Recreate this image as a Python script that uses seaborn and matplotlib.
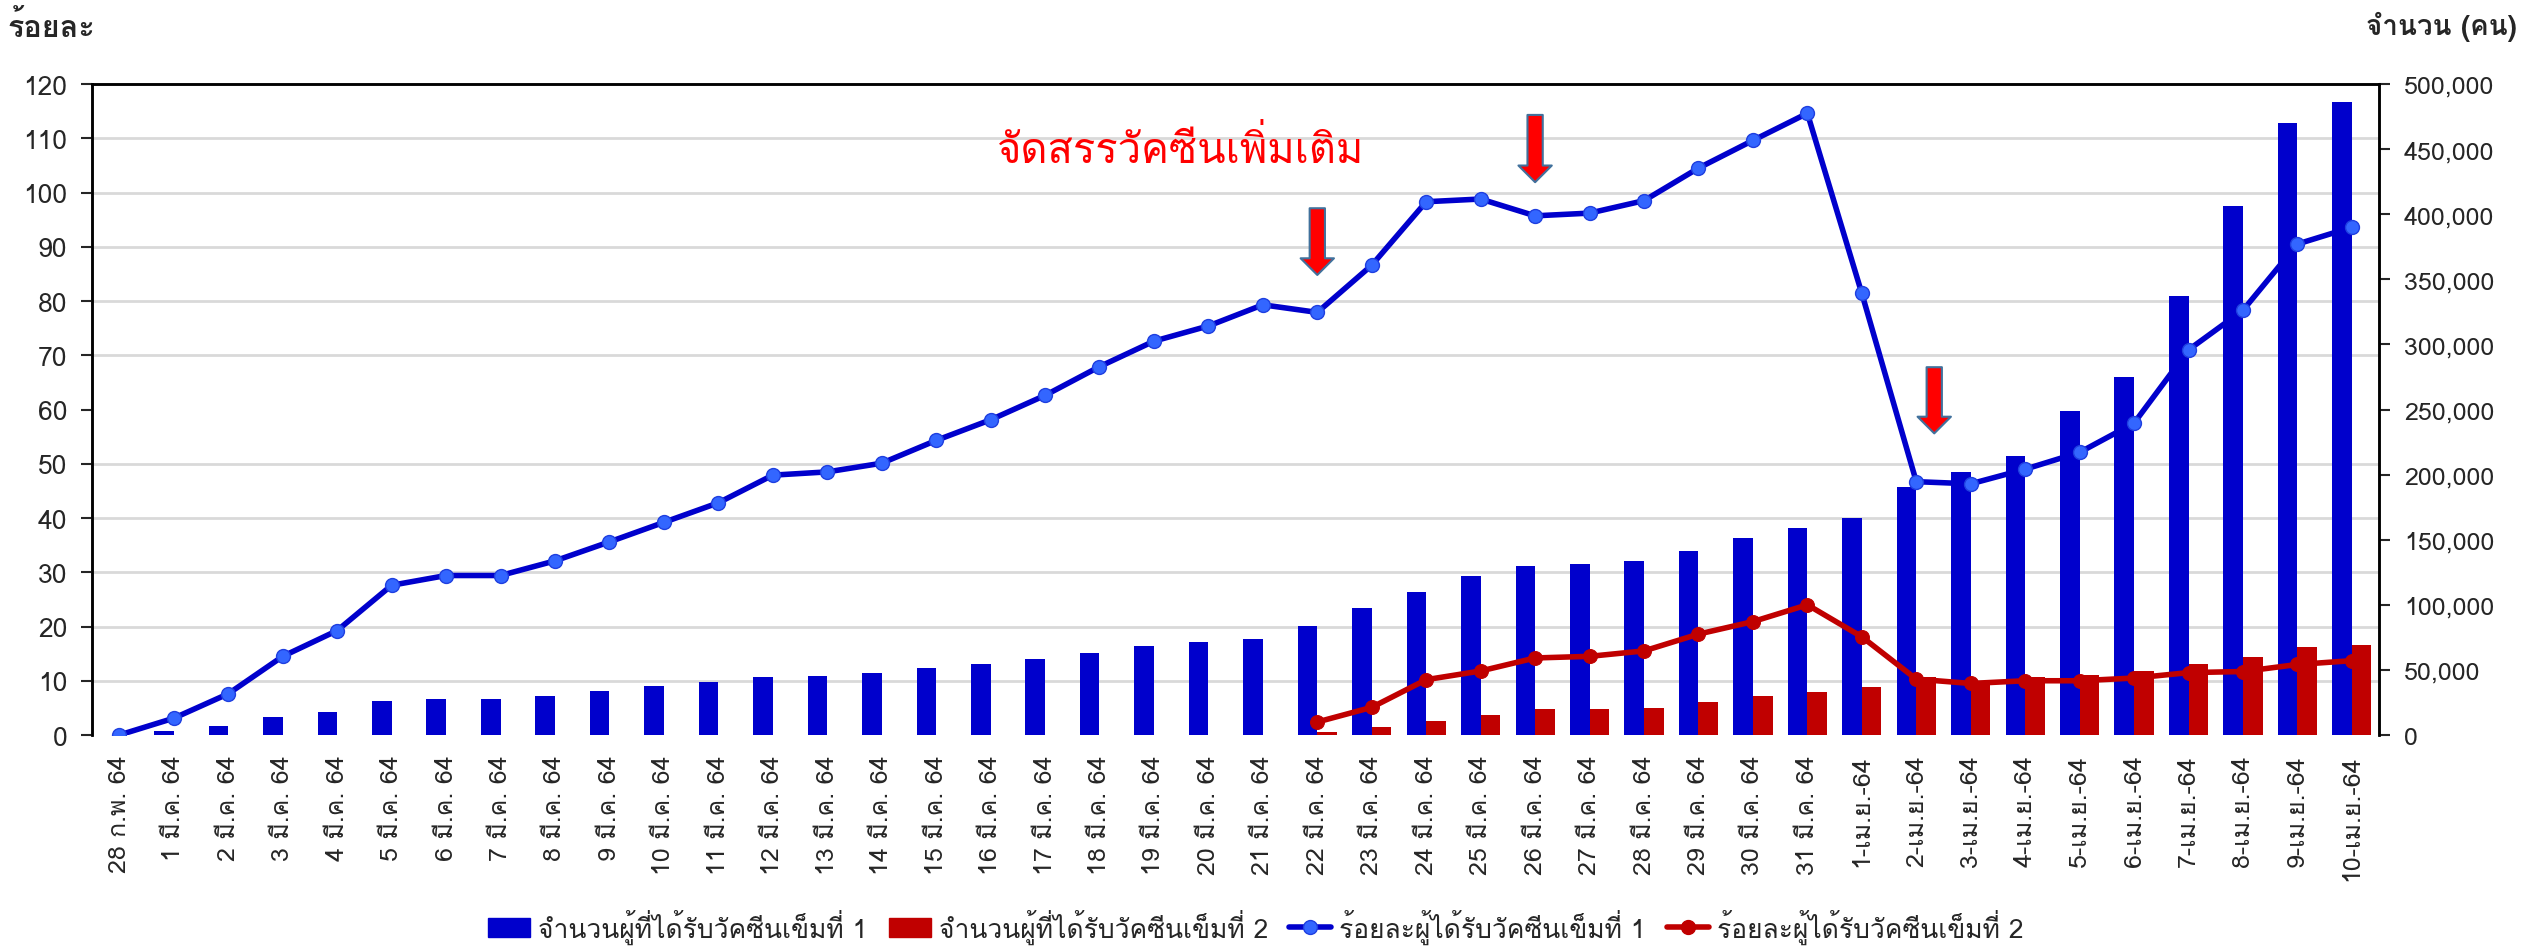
#!/usr/bin/env python3

import numpy as np
import pandas as pd
import matplotlib
matplotlib.use("Agg")
import matplotlib.pyplot as plt
from matplotlib import font_manager, ft2font
from matplotlib.patches import Patch
from matplotlib.lines import Line2D
from matplotlib.ticker import MultipleLocator, FuncFormatter
import seaborn as sns

sns.set_style("white")


def find_thai_font():
    # look for any installed font that has Thai glyphs
    for f in font_manager.fontManager.ttflist:
        try:
            cmap = ft2font.FT2Font(f.fname).get_charmap()
        except Exception:
            continue
        if 0x0E08 in cmap and 0x0E31 in cmap:
            return f.name
    return None


thai = find_thai_font()
fams = [thai, "DejaVu Sans"] if thai else ["DejaVu Sans"]
plt.rcParams["font.family"] = fams

dates = (["28 ก.พ. 64"]
         + [f"{d} มี.ค. 64" for d in range(1, 32)]
         + [f"{d}-เม.ย.-64" for d in range(1, 11)])

dose1_count = [0, 3100, 7000, 14100, 18000, 25800, 27900, 27900, 29700, 33600,
               37500, 40600, 44500, 45600, 47400, 51600, 54400, 58600, 63300, 68200,
               71100, 74000, 83500, 97500, 109500, 122300, 130000, 131200, 134000, 141500,
               151000, 159000, 166800, 190500, 201900, 214200, 248500, 275200, 337500, 406000,
               470000, 486500]
dose2_count = [0] * 22 + [2100, 6000, 11000, 15000, 19900, 19900, 20900, 25700, 29700, 33300,
                          37200, 44300, 41700, 44300, 46300, 49400, 54600, 60200, 67500, 69300]

dose1_pct = [0, 3.1, 7.6, 14.5, 19.25, 27.6, 29.4, 29.4, 32.1, 35.6,
             39.2, 42.8, 47.9, 48.5, 50.1, 54.3, 58.1, 62.6, 67.9, 72.6,
             75.4, 79.3, 77.9, 86.6, 98.3, 98.8, 95.7, 96.2, 98.5, 104.5,
             109.6, 114.6, 81.4, 46.7, 46.3, 49.0, 52.1, 57.5, 71.0, 78.3,
             90.5, 93.6]
dose2_pct = [np.nan] * 22 + [2.4, 5.1, 10.2, 11.8, 14.2, 14.5, 15.5, 18.6, 20.9, 24.0,
                             18.1, 10.3, 9.5, 10.0, 10.0, 10.5, 11.5, 11.7, 13.0, 13.7]

labels = ["จำนวนผู้ที่ได้รับวัคซีนเข็มที่ 1", "จำนวนผู้ที่ได้รับวัคซีนเข็มที่ 2",
          "ร้อยละผู้ได้รับวัคซีนเข็มที่ 1", "ร้อยละผู้ได้รับวัคซีนเข็มที่ 2"]
note = "จัดสรรวัคซีนเพิ่มเติม"
# where the allocation arrows sit (category index, top, tip on the % axis)
arrows = [(22, 97.1, 84.8), (26, 114.3, 101.9), (33.33, 67.8, 55.6)]

BLUE = "#0000CC"
RED = "#C00000"

bars = pd.DataFrame({
    "date": dates * 2,
    "count": dose1_count + dose2_count,
    "series": [labels[0]] * len(dates) + [labels[1]] * len(dates),
})
pct = pd.DataFrame({"x": np.arange(len(dates)), "p1": dose1_pct, "p2": dose2_pct})

fig, ax = plt.subplots(figsize=(25.24, 9.53), dpi=100)
fig.subplots_adjust(left=0.0365, right=0.9426, bottom=0.2277, top=0.9108)

sns.barplot(data=bars, x="date", y="count", hue="series", order=dates,
            palette=[BLUE, RED], saturation=1, width=0.72, gap=0, ax=ax,
            legend=False, edgecolor="none")
ax.set_ylim(0, 500000)
ax.set_xlim(-0.5, len(dates) - 0.5)
ax.set_xlabel("")
ax.set_ylabel("")

ax2 = ax.twinx()
# twinx moves the first axis' ticks to the left, so put them back on the right here
ax.yaxis.tick_right()
ax.yaxis.set_major_locator(MultipleLocator(50000))
ax.yaxis.set_major_formatter(FuncFormatter(lambda v, p: f"{v:,.0f}"))
ax.yaxis.set_minor_locator(MultipleLocator(500000 / 12))
ax.grid(which="minor", axis="y", color="#D9D9D9", lw=2)
ax.set_axisbelow(True)
ax.tick_params(axis="y", which="major", left=False, right=True, labelleft=False,
               labelright=True, length=8, width=1.5, labelsize=18, pad=10)
ax.tick_params(axis="y", which="minor", length=0)
ax.tick_params(axis="x", rotation=90, length=0, labelsize=18, pad=14)

sns.lineplot(data=pct, x="x", y="p1", ax=ax2, color=BLUE, lw=4, marker="o",
             markersize=10, markerfacecolor="#3366FF", markeredgecolor="#1F3FE0",
             markeredgewidth=1, errorbar=None, sort=False)
sns.lineplot(data=pct.dropna(), x="x", y="p2", ax=ax2, color=RED, lw=4, marker="o",
             markersize=10, markerfacecolor=RED, markeredgecolor=RED,
             errorbar=None, sort=False)
ax2.set_ylim(0, 120)
ax2.yaxis.tick_left()
ax2.yaxis.set_major_locator(MultipleLocator(10))
ax2.tick_params(axis="y", left=True, right=False, labelleft=True, labelright=False,
                length=8, width=1.5, labelsize=19, pad=10)
ax2.set_xlabel("")
ax2.set_ylabel("")

for a in (ax, ax2):
    for s in ("left", "right", "top"):
        a.spines[s].set_visible(True)
        a.spines[s].set_color("black")
        a.spines[s].set_linewidth(1.8)
    a.spines["bottom"].set_visible(False)

for x, y0, y1 in arrows:
    ax2.annotate("", xy=(x, y1), xytext=(x, y0),
                 arrowprops=dict(arrowstyle="simple,head_length=1.2,head_width=2.4,tail_width=1.1",
                                 fc="#FF0000", ec="#41719C", lw=1.5,
                                 shrinkA=0, shrinkB=0))

ax2.text(16.1, 108, note, color="#FF0000", fontsize=30, ha="left", va="center")

fig.text(0.003, 0.972, "ร้อยละ", fontsize=22, fontweight="bold", ha="left", va="center")
fig.text(0.997, 0.972, "จำนวน (คน)", fontsize=20, fontweight="bold", ha="right", va="center")

handles = [Patch(color=BLUE), Patch(color=RED),
           Line2D([], [], color=BLUE, lw=4, marker="o", markersize=10,
                  markerfacecolor="#3366FF", markeredgecolor="#1F3FE0"),
           Line2D([], [], color=RED, lw=4, marker="o", markersize=10,
                  markerfacecolor=RED, markeredgecolor=RED)]
fig.legend(handles, labels, loc="center", bbox_to_anchor=(0.4976, 0.027), ncol=4,
           frameon=False, fontsize=19, handlelength=1.6, handletextpad=0.3,
           columnspacing=0.8)

fig.savefig("out.png", dpi=100)
